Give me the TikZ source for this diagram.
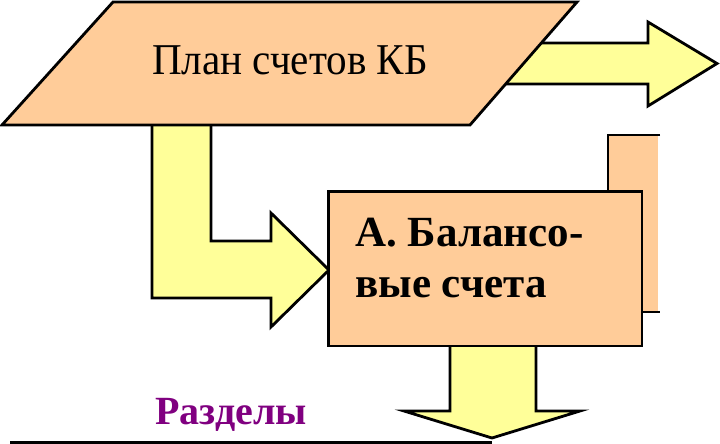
\documentclass[tikz,border=0pt]{standalone}
\usepackage{fontspec}
\setmainfont{Liberation Serif}
\definecolor{peach}{HTML}{FFCC99}
\definecolor{lemon}{HTML}{FFFF99}
\definecolor{plum}{HTML}{800080}
\begin{document}
\begin{tikzpicture}[x=1pt,y=-1pt, line join=miter,
  blockarrow/.style={draw=black, fill=lemon, line width=2.8pt},
  peachshape/.style={draw=black, fill=peach, line width=2.8pt},
  labeltext/.style={inner sep=0pt, xscale=0.935, font=\fontsize{44}{44}\selectfont},
  boxtext/.style={inner sep=0pt, align=left, font=\bfseries\fontsize{43}{51.5}\selectfont},
  sectiontext/.style={inner sep=0pt, text=plum, font=\bfseries\fontsize{40}{40}\selectfont}]
\useasboundingbox (0,0) rectangle (720,444);
% right arrow from the plan
\draw[blockarrow] (480,43) -- (648,43) -- (648,22) -- (717,63.5) -- (648,106) -- (648,84) -- (480,84) -- cycle;
% bent arrow down and right
\draw[blockarrow] (152,110) -- (152,298) -- (271,298) -- (271,327) -- (329,270) -- (271,213) -- (271,241) -- (211,241) -- (211,110) -- cycle;
% plan of accounts parallelogram
\draw[peachshape] (113,2) -- (577,2) -- (470,125) -- (2,125) -- cycle;
\node[labeltext, anchor=base] (plan) at (290,74.3) {План счетов КБ};
% back (off-balance) box, cut at the right edge
\fill[peach] (608,135) rectangle (658,312);
\draw[line width=2.8pt] (660,135) -- (608,135) -- (608,312) -- (660,312);
% down arrow
\draw[blockarrow] (450,330) -- (450,411) -- (404,411) -- (492,438) -- (580,411) -- (536,411) -- (536,330) -- cycle;
% balance accounts box
\draw[peachshape] (328.5,191.5) rectangle (642,346);
\node[boxtext, anchor=base west] (bal) at (355,297.5) {А. Балансо-\\вые счета};
% sections
\node[sectiontext, anchor=base west] (razd) at (155,424) {Разделы};
\draw[line width=3pt] (10,442.5) -- (492,442.5);
\end{tikzpicture}
\end{document}
